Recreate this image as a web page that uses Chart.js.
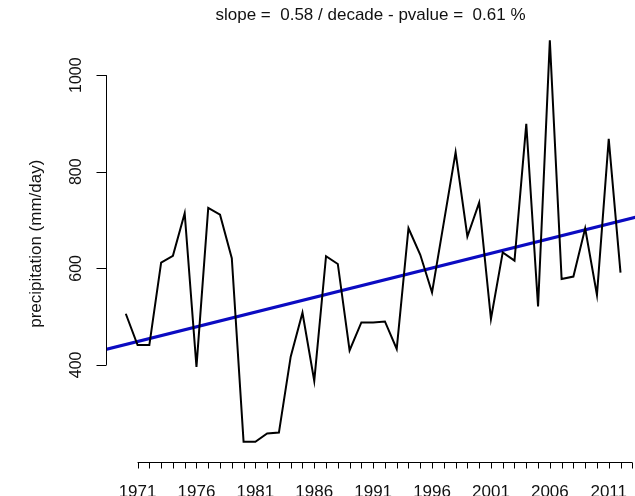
<!DOCTYPE html>
<html>
<head>
<meta charset="utf-8">
<script src="https://cdn.jsdelivr.net/npm/chart.js@4"></script>
<style>
  html, body { margin: 0; padding: 0; background: #fff; }
  #wrap { width: 635px; height: 496px; }
</style>
</head>
<body>
<div id="wrap"><canvas id="chart" width="635" height="496"></canvas></div>
<script>
// yearly precipitation
const years = [1970, 1971, 1972, 1973, 1974, 1975, 1976, 1977, 1978, 1979,
               1980, 1981, 1982, 1983, 1984, 1985, 1986, 1987, 1988, 1989,
               1990, 1991, 1992, 1993, 1994, 1995, 1996, 1997, 1998, 1999,
               2000, 2001, 2002, 2003, 2004, 2005, 2006, 2007, 2008, 2009,
               2010, 2011, 2012];
const precip = [506, 441, 441, 612, 626, 714, 396, 725, 711, 621,
                241, 241, 258, 260, 417, 508, 367, 625, 609, 430,
                488, 488, 490, 433, 683, 628, 550, 695, 840, 666,
                736, 495, 633, 616, 899, 521, 1072, 578, 583, 683,
                545, 868, 591];

// fitted trend line (ends at the plot edges)
const trendYears = [1968.3, 2013.3];
const trendValues = [432, 706];

// axis ticks and labels
const yTicks = [400, 600, 800, 1000];
const xTickYears = Array.from({ length: 43 }, (_, i) => 1971 + i);
const xLabelYears = [1971, 1976, 1981, 1986, 1991, 1996, 2001, 2006, 2011];

const titleText = 'slope =  0.58 / decade - pvalue =  0.61 %';
const yTitle = 'precipitation (mm/day)';
const fontFamily = '"Liberation Sans", Arial, sans-serif';

// R style axes: line between first and last tick, ticks outside
const rAxes = {
    id: 'rAxes',
    afterDraw(chart) {
        const ctx = chart.ctx;
        const area = chart.chartArea;
        const xs = chart.scales.x;
        const ys = chart.scales.y;
        ctx.save();
        ctx.strokeStyle = '#000';
        ctx.fillStyle = '#111';
        ctx.lineWidth = 1;

        // y axis
        const left = Math.round(area.left) + 0.5;
        ctx.beginPath();
        ctx.moveTo(left, ys.getPixelForValue(yTicks[0]));
        ctx.lineTo(left, ys.getPixelForValue(yTicks[yTicks.length - 1]));
        yTicks.forEach(v => {
            const py = Math.round(ys.getPixelForValue(v)) + 0.5;
            ctx.moveTo(left, py);
            ctx.lineTo(left - 10, py);
        });
        ctx.stroke();

        ctx.font = '16px ' + fontFamily;
        ctx.textAlign = 'center';
        ctx.textBaseline = 'alphabetic';
        yTicks.forEach(v => {
            const py = ys.getPixelForValue(v);
            ctx.save();
            ctx.translate(80.5, py);
            ctx.rotate(-Math.PI / 2);
            ctx.fillText(String(v), 0, 0);
            ctx.restore();
        });

        ctx.font = '17px ' + fontFamily;
        ctx.save();
        ctx.translate(41, (area.top + area.bottom) / 2);
        ctx.rotate(-Math.PI / 2);
        ctx.fillText(yTitle, 0, 0);
        ctx.restore();

        // x axis
        const bottom = Math.round(area.bottom) + 0.5;
        ctx.beginPath();
        ctx.moveTo(xs.getPixelForValue(xTickYears[0]), bottom);
        ctx.lineTo(xs.getPixelForValue(xTickYears[xTickYears.length - 1]), bottom);
        xTickYears.forEach(yr => {
            const px = Math.round(xs.getPixelForValue(yr)) + 0.5;
            ctx.moveTo(px, bottom);
            ctx.lineTo(px, bottom + 6);
        });
        ctx.stroke();

        ctx.font = '17px ' + fontFamily;
        xLabelYears.forEach(yr => {
            ctx.fillText(String(yr), xs.getPixelForValue(yr), 497);
        });
        ctx.restore();
    }
};

const ctx = document.getElementById('chart').getContext('2d');
const chart = new Chart(ctx, {
    type: 'line',
    data: {
        datasets: [{
            label: 'precipitation',
            data: years.map((yr, i) => ({ x: yr, y: precip[i] })),
            borderColor: '#000',
            borderWidth: 2,
            pointRadius: 0,
            tension: 0,
            fill: false
        }, {
            label: 'trend',
            data: trendYears.map((yr, i) => ({ x: yr, y: trendValues[i] })),
            borderColor: '#0b0bc2',
            borderWidth: 3,
            pointRadius: 0,
            fill: false
        }]
    },
    options: {
        responsive: false,
        animation: false,
        devicePixelRatio: 1,
        layout: { padding: { left: 106, right: 0, top: 0, bottom: 34 } },
        plugins: {
            legend: { display: false },
            tooltip: { enabled: false },
            title: {
                display: true,
                text: titleText,
                fullSize: false,
                color: '#111',
                font: { family: fontFamily, size: 17, weight: 'normal', lineHeight: 1.2 },
                padding: { top: 5, bottom: 0 }
            }
        },
        scales: {
            x: { type: 'linear', display: false, min: 1968.32, max: 2013.23 },
            y: { type: 'linear', display: false, min: 199, max: 1103 }
        }
    },
    plugins: [rAxes]
});
</script>
</body>
</html>
